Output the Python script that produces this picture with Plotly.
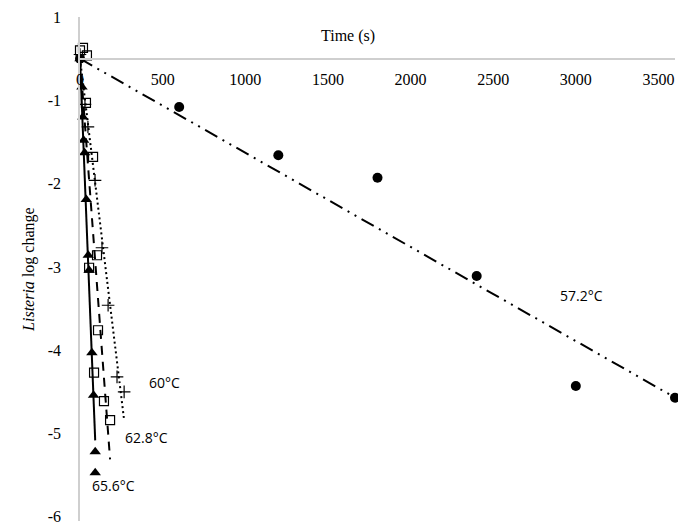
import numpy as np
import plotly.graph_objects as go

# ---------------- data ----------------
t_572 = [0, 600, 1200, 1800, 2400, 3000, 3600]
v_572 = [-0.5, -1.08, -1.66, -1.93, -3.11, -4.43, -4.57]

t_600 = [0, 30, 48, 91, 133, 170, 224, 267]
v_600 = [-0.45, -1.05, -1.32, -1.96, -2.77, -3.46, -4.32, -4.50]

t_628 = [0, 18, 42, 36, 79, 103, 55, 109, 85, 145, 182]
v_628 = [-0.40, -0.37, -0.46, -1.03, -1.68, -2.86, -3.01, -3.76, -4.27, -4.61, -4.84]

t_656 = [0, 12, 17, 22, 28, 38, 50, 55, 72, 82, 92, 92]
v_656 = [-0.5, -0.84, -1.20, -1.48, -1.63, -2.19, -2.86, -3.04, -4.03, -4.54, -5.22, -5.47]

series_names = ["57.2°C", "60°C", "62.8°C", "65.6°C"]
label_pos = {"57.2°C": (3037, -3.34), "60°C": (514, -4.39),
             "62.8°C": (405, -5.05), "65.6°C": (200, -5.62)}

y_tickvals = [0, -1, -2, -3, -4, -5, -6]
y_ticktext = ["1", "-1", "-2", "-3", "-4", "-5", "-6"]
x_tickvals = [0, 500, 1000, 1500, 2000, 2500, 3000, 3500]

TREND_INTERCEPT = -0.5  # trendlines with a set intercept


def trend(t, v):
    t = np.asarray(t, float)
    v = np.asarray(v, float)
    slope = np.sum(t * (v - TREND_INTERCEPT)) / np.sum(t * t)
    tt = np.array([t.min(), t.max()])
    return tt, TREND_INTERCEPT + slope * tt


fig = go.Figure()

styles = [
    (t_572, v_572, dict(color="black", width=2, dash="14px,6px,2px,6px,2px,6px"),
     dict(symbol="circle", size=10, color="black")),
    (t_600, v_600, dict(color="black", width=2, dash="2px,3px"),
     dict(symbol="cross-thin", size=9, color="black", line=dict(width=1.2, color="black"))),
    (t_628, v_628, dict(color="black", width=2, dash="9px,7px"),
     dict(symbol="square-open", size=9, color="black", line=dict(width=1.2, color="black"))),
    (t_656, v_656, dict(color="black", width=2),
     dict(symbol="triangle-up", size=10, color="black")),
]

for (t, v, ln, mk), name in zip(styles, series_names):
    tt, vv = trend(t, v)
    fig.add_trace(go.Scatter(x=tt, y=vv, mode="lines", line=ln, showlegend=False,
                             hoverinfo="skip", cliponaxis=False))
for (t, v, ln, mk), name in zip(styles, series_names):
    fig.add_trace(go.Scatter(x=t, y=v, mode="markers", marker=mk, name=name,
                             showlegend=False, cliponaxis=False))

for name in series_names:
    x, y = label_pos[name]
    fig.add_annotation(x=x, y=y, text=name, showarrow=False,
                       font=dict(family="Open Sans", size=14, color="black"))

W, H = 678, 525
y_range = [-6.05, 0]
PX_PER_UNIT = 500 / 6
L, R, T = 80, 3, 17
PH = (y_range[1] - y_range[0]) * PX_PER_UNIT
B = H - T - PH
PW = W - L - R

fig.add_annotation(x=(348 - L) / PW, y=1 - (25 - T) / PH, xref="paper", yref="paper",
                   text="Time (s)", showarrow=False,
                   font=dict(family="Liberation Serif", size=16, color="black"))
fig.add_annotation(x=(18 - L) / PW, y=1 - (270 - T) / PH, xref="paper", yref="paper",
                   text="<i>Listeria</i> log change", showarrow=False, textangle=-90,
                   font=dict(family="Liberation Serif", size=16, color="black"))

fig.update_layout(
    width=W, height=H,
    margin=dict(l=L, r=R, t=T, b=B),
    paper_bgcolor="white", plot_bgcolor="white",
    xaxis=dict(range=[0, 3600], tickvals=x_tickvals, showgrid=False, zeroline=False,
               showline=True, linecolor="#cfcfcf", linewidth=1.5,
               anchor="free", position=(-0.5 - y_range[0]) / (y_range[1] - y_range[0]),
               tickfont=dict(family="Liberation Serif", size=16, color="black"),
               ticks="", ticklabelstandoff=6, automargin=False,
               ticklabeloverflow="allow"),
    yaxis=dict(range=y_range, tickvals=y_tickvals, ticktext=y_ticktext,
               showgrid=False, zeroline=False,
               showline=True, linecolor="#cfcfcf", linewidth=1.5,
               tickfont=dict(family="Liberation Serif", size=16, color="black"),
               ticks="", ticklabelstandoff=14, automargin=False,
               ticklabeloverflow="allow"),
)

fig.write_html("out.html", config={"displayModeBar": False},
               post_script="document.body.style.margin='0';"
                           "document.body.style.overflow='hidden';")
